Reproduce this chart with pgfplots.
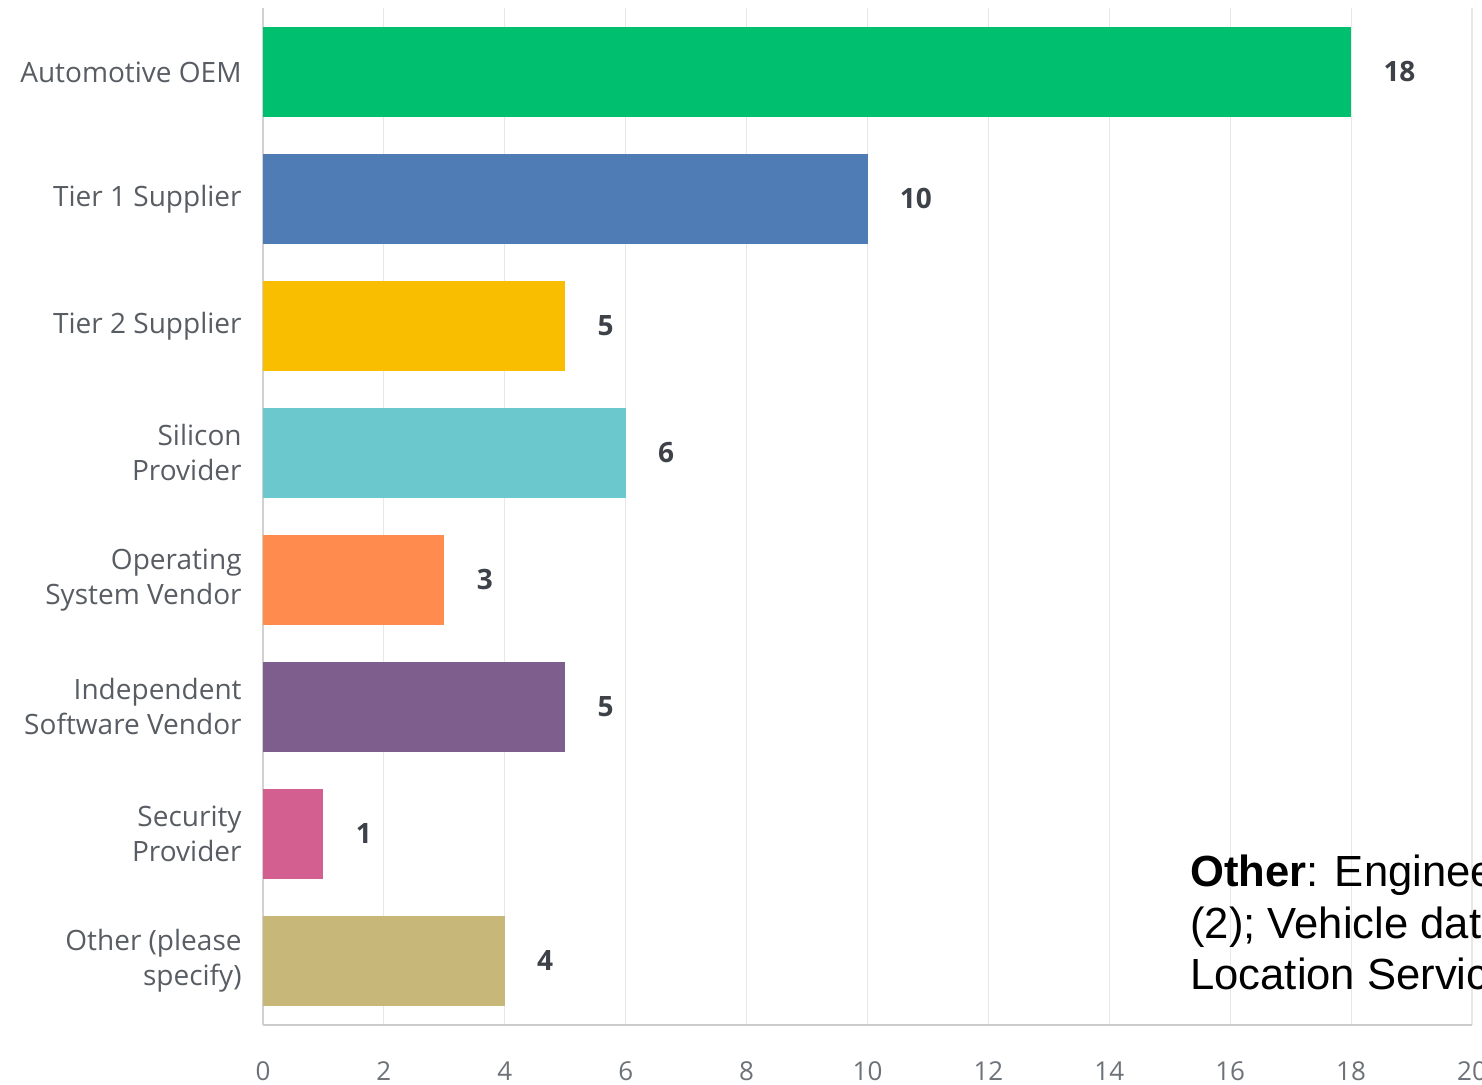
\documentclass[border=0pt]{standalone}
\usepackage{pgfplots}
\pgfplotsset{compat=1.18}
\usepackage{fontspec}
\setmainfont{Open Sans}
\newfontfamily\notefont{Liberation Sans}

\definecolor{cOEM}{HTML}{00BF6F}
\definecolor{cTierA}{HTML}{507CB6}
\definecolor{cTierB}{HTML}{F9BE00}
\definecolor{cSilicon}{HTML}{6BC8CD}
\definecolor{cOS}{HTML}{FF8B4F}
\definecolor{cISV}{HTML}{7D5E8D}
\definecolor{cSec}{HTML}{D25F90}
\definecolor{cOther}{HTML}{C7B879}
\definecolor{labelgray}{HTML}{585D63}
\definecolor{tickgray}{HTML}{6D7278}
\definecolor{valgray}{HTML}{3D4148}

\begin{document}
\begin{tikzpicture}
% page = 1482 x 1085 px at 0.5pt per px
\path[use as bounding box] (-131.5pt,-30pt) rectangle (609.5pt,512.5pt);
\begin{axis}[
    at={(0pt,0pt)}, anchor=south west,
    scale only axis,
    width=604.5pt, height=508.5pt,
    xbar, bar width=45pt, bar shift=0pt,
    xmin=0, xmax=20,
    ymin=-0.504, ymax=7.504,
    xtick={0,2,...,20},
    ytick={0,...,7},
    yticklabels={{Other (please\\specify)},{Security\\Provider},{Independent\\Software Vendor},{Operating\\System Vendor},{Silicon\\Provider},Tier 2 Supplier,Tier 1 Supplier,Automotive OEM},
    axis x line*=bottom, axis y line*=left,
    x axis line style={color=black!20, line width=1pt},
    y axis line style={color=black!18, line width=0.8pt},
    major tick length=0pt,
    xmajorgrids, grid style={color=black!9, line width=0.6pt},
    /pgf/number format/assume math mode=true,
    xticklabel style={font=\fontsize{13}{15}\selectfont, color=tickgray, anchor=center, yshift=-23pt},
    yticklabel style={font=\fontsize{14}{17.5}\selectfont, color=labelgray, anchor=east, align=right, inner sep=0pt, xshift=-10.5pt},
    nodes near coords,
    nodes near coords style={font=\bfseries\fontsize{14}{16}\selectfont, color=valgray, anchor=west, inner sep=0pt, xshift=16pt},
]
\addplot[fill=cOEM, draw=none] coordinates {(18,7)};
\addplot[fill=cTierA, draw=none] coordinates {(10,6)};
\addplot[fill=cTierB, draw=none] coordinates {(5,5)};
\addplot[fill=cSilicon, draw=none] coordinates {(6,4)};
\addplot[fill=cOS, draw=none] coordinates {(3,3)};
\addplot[fill=cISV, draw=none] coordinates {(5,2)};
\addplot[fill=cSec, draw=none] coordinates {(1,1)};
\addplot[fill=cOther, draw=none] coordinates {(4,0)};
\end{axis}
% base of a multi-line node is the baseline of its last line
\node[anchor=base west, inner sep=0pt, align=left, font=\notefont\fontsize{21.8}{25.75}\selectfont] at (463.5pt,17.5pt)
  {\textbf{Other}: Engineering Services\\(2); Vehicle data\\Location Services};
\end{tikzpicture}
\end{document}
